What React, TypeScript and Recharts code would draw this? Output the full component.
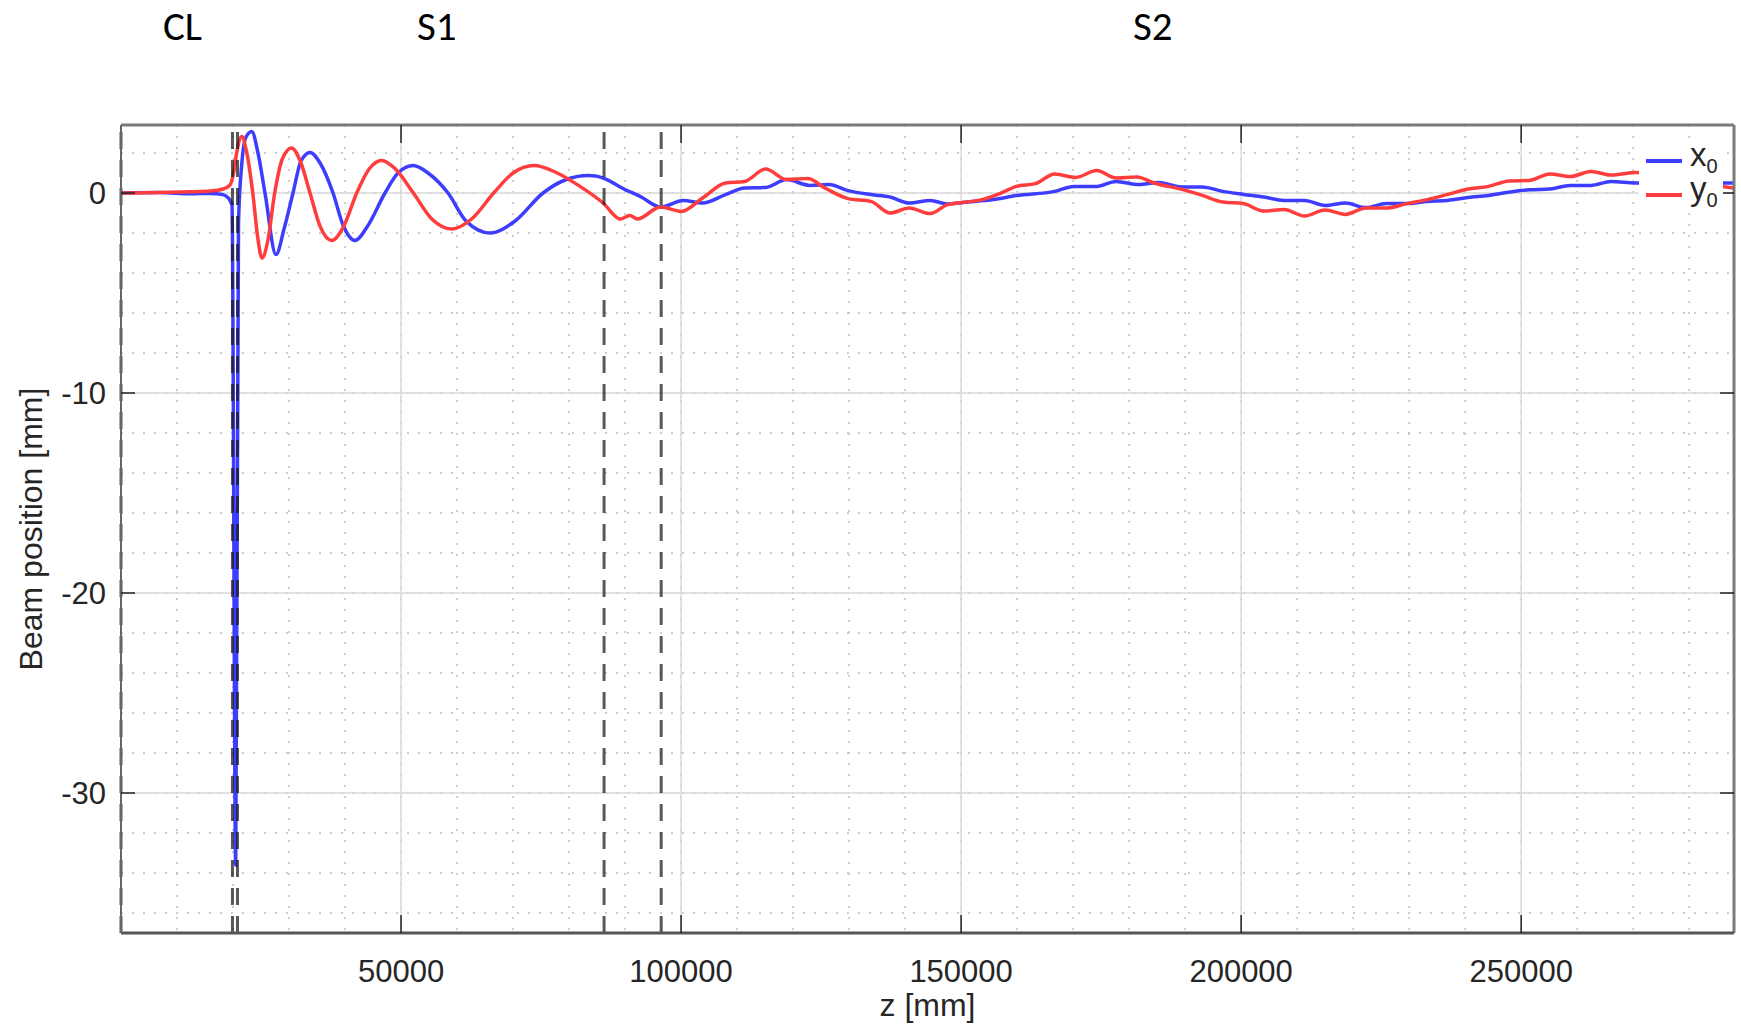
import React from 'react';
import { LineChart, Line, XAxis, YAxis, CartesianGrid, ReferenceLine, Legend, Label } from 'recharts';

// ---------- data ----------
const X0_Z = [0, 6960, 12320, 16000, 18210, 19160, 19820, 20480, 20980, 21550, 22320, 23340, 24460, 25710, 27680, 29110, 30710, 32140, 33750, 35540, 37860, 39640, 41790, 43930, 47140, 49460, 52200, 54820, 58390, 61610, 65890, 70360, 75360, 79290, 83450, 84700, 86750, 89460, 92890, 96320, 100410, 103840, 107930, 111360, 115110, 118870, 122960, 126390, 129800, 133910, 137320, 140730, 144500, 147570, 150300, 155770, 159870, 166710, 170120, 174210, 177640, 181730, 185160, 189430, 193070, 196710, 200370, 204020, 207680, 211320, 214980, 218620, 222270, 225930, 229570, 233210, 236870, 240530, 244180, 247820, 251480, 255130, 258780, 262430, 266070, 270460, 279000, 288000];
const X0_V = [0, 0.02, -0.04, -0.02, -0.08, -0.25, -0.6, -33.6, -1.5, 1.4, 2.8, 3.08, 2.0, 0, -3.08, -1.8, 0, 1.6, 2.03, 1.5, 0, -1.6, -2.37, -1.7, 0, 1.0, 1.37, 1.0, 0, -1.4, -2.0, -1.4, 0, 0.65, 0.87, 0.85, 0.67, 0.25, -0.2, -0.7, -0.38, -0.5, -0.08, 0.25, 0.28, 0.67, 0.38, 0.42, 0.12, -0.08, -0.2, -0.5, -0.38, -0.55, -0.47, -0.33, -0.13, 0.08, 0.33, 0.33, 0.58, 0.42, 0.53, 0.3, 0.3, 0.08, -0.07, -0.2, -0.37, -0.37, -0.62, -0.5, -0.73, -0.53, -0.53, -0.42, -0.37, -0.23, -0.12, 0.04, 0.16, 0.2, 0.38, 0.38, 0.58, 0.5, 0.5, 0.5];

const Y0_Z = [0, 6960, 12320, 16000, 18210, 19460, 20100, 20650, 21550, 22320, 23530, 24400, 25180, 26200, 27440, 28800, 30450, 32000, 33750, 35600, 37630, 39700, 42090, 44300, 46560, 49000, 52200, 55500, 59050, 62600, 66540, 70000, 73770, 77500, 81960, 86070, 89140, 90850, 92210, 96320, 100070, 103840, 107930, 111360, 115110, 118870, 122620, 125690, 129800, 133910, 137320, 140730, 144500, 147570, 150300, 153710, 157140, 159870, 163280, 166710, 170460, 174210, 177640, 181390, 184460, 189430, 193070, 196710, 200370, 204020, 207680, 211320, 214980, 218620, 222270, 225930, 229570, 233210, 236870, 240530, 244180, 247820, 251480, 255130, 258780, 262430, 266070, 270460, 279000, 288000];
const Y0_V = [0, 0.02, 0.06, 0.1, 0.2, 0.4, 1.0, 2.0, 2.83, 2.2, 0, -2.2, -3.25, -2.4, 0, 1.7, 2.25, 1.6, 0, -1.7, -2.37, -1.7, 0, 1.2, 1.63, 1.2, 0, -1.3, -1.8, -1.3, 0, 1.0, 1.37, 1.05, 0.33, -0.5, -1.3, -1.12, -1.3, -0.7, -0.92, -0.25, 0.5, 0.58, 1.2, 0.67, 0.72, 0.25, -0.28, -0.42, -1.0, -0.75, -1.03, -0.58, -0.47, -0.33, 0, 0.33, 0.47, 0.95, 0.78, 1.12, 0.75, 0.8, 0.5, 0.18, -0.12, -0.45, -0.53, -0.9, -0.82, -1.15, -0.85, -1.07, -0.75, -0.75, -0.53, -0.33, -0.07, 0.2, 0.33, 0.6, 0.63, 0.95, 0.82, 1.08, 0.9, 1.03, 0.6, 0.25];

const SERIES_NAMES = ['x0', 'y0'];
const SERIES_COLORS = ['#3d3dff', '#ff3d3d'];

const MARKER_Z = [0, 19900, 20800, 86250, 96450];
const SECTION_LABELS = ['CL', 'S1', 'S2'];
const SECTION_LEFT = [163, 417, 1133];

const X_TICKS = [50000, 100000, 150000, 200000, 250000];
const Y_TICKS = [-30, -20, -10, 0];
const X_DOMAIN: [number, number] = [0, 288000];
const Y_DOMAIN: [number, number] = [-37, 3.4];
const X_MINOR = Array.from({ length: 28 }, (_, i) => (i + 1) * 10000);
const Y_MINOR = Array.from({ length: 20 }, (_, i) => -36 + i * 2);

// ---------- layout ----------
const CHART_W = 1741;
const CHART_H = 1025;
const PLOT_LEFT = 121;
const PLOT_TOP = 125;
const PLOT_RIGHT = 1734;
const PLOT_BOTTOM = 933;
const Y_AXIS_W = 100;
const X_AXIS_H = 90;
const FONT = "'Liberation Sans', Arial, Helvetica, sans-serif";
const TXT = '#262626';

const x0Data = X0_Z.map((z, i) => ({ z, v: X0_V[i] }));
const y0Data = Y0_Z.map((z, i) => ({ z, v: Y0_V[i] }));

const XTick = (props: any) => {
  const { x, y, payload } = props;
  return (
    <g>
      <line x1={x} x2={x} y1={PLOT_BOTTOM} y2={PLOT_BOTTOM - 18} stroke="#222" strokeWidth={1.5} />
      <line x1={x} x2={x} y1={PLOT_TOP} y2={PLOT_TOP + 18} stroke="#222" strokeWidth={1.5} />
      <text x={x} y={y} dy="0.71em" textAnchor="middle" fontSize={31} fill={TXT} fontFamily={FONT}>
        {payload.value}
      </text>
    </g>
  );
};

const YTick = (props: any) => {
  const { x, y, payload } = props;
  return (
    <g>
      <line x1={PLOT_LEFT} x2={PLOT_LEFT + 14} y1={y} y2={y} stroke="#222" strokeWidth={1.5} />
      <line x1={PLOT_RIGHT - 14} x2={PLOT_RIGHT} y1={y} y2={y} stroke="#222" strokeWidth={1.5} />
      <text x={x} y={y} dy="0.355em" textAnchor="end" fontSize={31} fill={TXT} fontFamily={FONT}>
        {payload.value}
      </text>
    </g>
  );
};

const XLabel = (props: any) => {
  const vb = props.viewBox || {};
  const cx = (vb.x ?? PLOT_LEFT) + (vb.width ?? PLOT_RIGHT - PLOT_LEFT) / 2;
  return (
    <text x={cx} y={PLOT_BOTTOM + 83} textAnchor="middle" fontSize={32} fill={TXT} fontFamily={FONT}>
      z [mm]
    </text>
  );
};

const YLabel = (props: any) => {
  const vb = props.viewBox || {};
  const cx = (vb.x ?? 21) + 10;
  const cy = (vb.y ?? PLOT_TOP) + (vb.height ?? PLOT_BOTTOM - PLOT_TOP) / 2;
  return (
    <text
      x={cx}
      y={cy}
      transform={`rotate(-90 ${cx} ${cy})`}
      textAnchor="middle"
      dominantBaseline="central"
      fontSize={32}
      fill={TXT}
      fontFamily={FONT}
    >
      Beam position [mm]
    </text>
  );
};

const LegendContent = (props: any) => {
  const items = props.payload || [];
  return (
    <div style={{ background: '#fff', width: '100%', height: '100%', paddingTop: 1 }}>
      {items.map((it: any) => {
        const name = String(it.value);
        return (
          <div key={name} style={{ display: 'flex', alignItems: 'center', height: 34 }}>
            <span style={{ display: 'inline-block', width: 36, height: 4, background: it.color, marginLeft: 7 }} />
            <span style={{ marginLeft: 8, fontSize: 33, fontFamily: FONT, color: TXT, lineHeight: '34px', position: 'relative', top: -4 }}>
              {name.slice(0, -1)}
              <span style={{ fontSize: 20, position: 'relative', top: 7 }}>{name.slice(-1)}</span>
            </span>
          </div>
        );
      })}
    </div>
  );
};

export default function App() {
  return (
    <div style={{ position: 'absolute', left: 0, top: 0, width: CHART_W, height: CHART_H, background: '#fff' }}>
      <svg width={CHART_W} height={70} style={{ position: 'absolute', left: 0, top: 0 }}>
        {SECTION_LABELS.map((t, i) => (
          <text key={t} x={SECTION_LEFT[i]} y={40} fontSize={41} fill="#000" fontFamily="Carlito, Calibri, Lato, 'Open Sans', sans-serif">
            {t}
          </text>
        ))}
      </svg>
      <LineChart
        width={CHART_W}
        height={CHART_H}
        margin={{ top: PLOT_TOP, right: CHART_W - PLOT_RIGHT, bottom: CHART_H - PLOT_BOTTOM - X_AXIS_H, left: PLOT_LEFT - Y_AXIS_W }}
      >
        <CartesianGrid verticalValues={X_MINOR} horizontalValues={Y_MINOR} stroke="#bdbdbd" strokeWidth={1.5} strokeDasharray="2 9" />
        <CartesianGrid verticalValues={X_TICKS} horizontalValues={Y_TICKS} stroke="#d9d9d9" strokeWidth={1.5} />
        <XAxis
          dataKey="z"
          type="number"
          domain={X_DOMAIN}
          ticks={X_TICKS}
          allowDataOverflow
          height={X_AXIS_H}
          tickSize={0}
          tickMargin={27}
          tickLine={false}
          axisLine={{ stroke: '#555', strokeWidth: 3 }}
          tick={<XTick />}
          interval={0}
        >
          <Label content={<XLabel />} />
        </XAxis>
        <YAxis
          type="number"
          domain={Y_DOMAIN}
          ticks={Y_TICKS}
          allowDataOverflow
          width={Y_AXIS_W}
          tickSize={0}
          tickMargin={15}
          tickLine={false}
          axisLine={{ stroke: '#666', strokeWidth: 2 }}
          tick={<YTick />}
          interval={0}
        >
          <Label content={<YLabel />} />
        </YAxis>
        <Line data={x0Data} dataKey="v" name={SERIES_NAMES[0]} type="monotone" stroke={SERIES_COLORS[0]} strokeWidth={3.5} dot={false} activeDot={false} isAnimationActive={false} />
        <Line data={y0Data} dataKey="v" name={SERIES_NAMES[1]} type="monotone" stroke={SERIES_COLORS[1]} strokeWidth={3.5} dot={false} activeDot={false} isAnimationActive={false} />
        {MARKER_Z.map((z) => (
          <ReferenceLine key={z} x={z} stroke="rgba(25,25,25,0.72)" strokeWidth={3} strokeDasharray="17 11" />
        ))}
        <ReferenceLine y={Y_DOMAIN[1]} stroke="#7a7a7a" strokeWidth={3} />
        <ReferenceLine x={X_DOMAIN[1]} stroke="#7a7a7a" strokeWidth={3} />
        <Legend
          layout="vertical"
          align="center"
          verticalAlign="middle"
          content={<LegendContent />}
          wrapperStyle={{ left: 1639, top: 143, width: 84, height: 68, background: '#fff' }}
        />
      </LineChart>
    </div>
  );
}
